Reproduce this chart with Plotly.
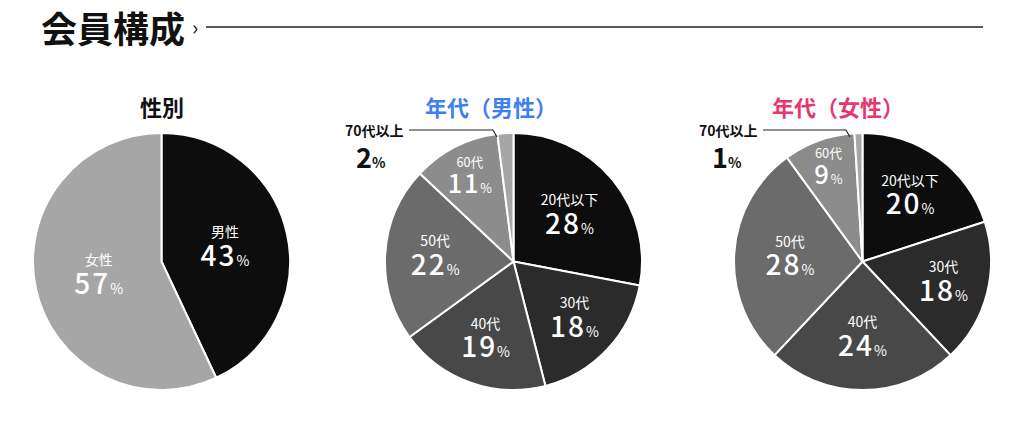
import plotly.graph_objects as go

W, H = 1024, 424

# ---- data ----
gender_labels = ["男性", "女性"]
gender_values = [43, 57]

age_labels = ["20代以下", "30代", "40代", "50代", "60代", "70代以上"]
male_age_values = [28, 18, 19, 22, 11, 2]
female_age_values = [20, 18, 24, 28, 9, 1]

title_text = "会員構成"
subtitles = ["性別", "年代（男性）", "年代（女性）"]

# ---- styles ----
FONT = "Noto Sans CJK JP"
gender_colors = ["#0d0d0d", "#a6a6a6"]
age_colors = ["#0d0d0d", "#2b2b2b", "#484848", "#6b6b6b", "#8c8c8c", "#a6a6a6"]
sub_colors = ["#111111", "#3f7fef", "#e4386f"]


def px(x):
    return x / W


def py(y):
    return 1 - y / H


def dom(cx, cy, r):
    return dict(x=[px(cx - r), px(cx + r)], y=[py(cy + r), py(cy - r)])


inner_tpl = ("<span style='font-size:14px'>%{label}</span><br>"
             "<span style='font-size:28px;font-weight:500;letter-spacing:2px'>%{value}</span>"
             "<span style='font-size:14px'>%</span>")

fig = go.Figure()

pies = [
    (gender_labels, gender_values, gender_colors, 161.5),
    (age_labels, male_age_values, age_colors, 513.5),
    (age_labels, female_age_values, age_colors, 862.5),
]
for labels, values, colors, cx in pies:
    tpl = [inner_tpl if v >= 5 else "" for v in values]
    fig.add_trace(go.Pie(
        labels=labels, values=values, sort=False, direction="clockwise",
        rotation=0, domain=dom(cx, 261.5, 128.5),
        marker=dict(colors=colors, line=dict(color="white", width=2)),
        texttemplate=tpl, textposition="inside",
        insidetextorientation="horizontal",
        textfont=dict(family=FONT, size=22, color="white"),
        hoverinfo="skip", showlegend=False,
    ))

annotations = []
# main title
annotations.append(dict(
    x=px(39), y=py(27), xref="paper", yref="paper", xanchor="left", yanchor="middle",
    text=f"<b>{title_text}</b>", showarrow=False,
    font=dict(family=FONT, size=36, color="#111111")))
annotations.append(dict(
    x=px(190), y=py(26), xref="paper", yref="paper", xanchor="left", yanchor="middle",
    text="›", showarrow=False, font=dict(family=FONT, size=21, color="#111111")))

# subtitles
for t, c, x in zip(subtitles, sub_colors, [162, 491, 838]):
    annotations.append(dict(
        x=px(x), y=py(106), xref="paper", yref="paper", xanchor="center", yanchor="middle",
        text=f"<b>{t}</b>", showarrow=False, font=dict(family=FONT, size=22, color=c)))

# small-slice outside labels
for vals, lx, vx in [(male_age_values, 406, 371), (female_age_values, 760, 727)]:
    annotations.append(dict(
        x=px(lx), y=py(130), xref="paper", yref="paper", xanchor="right", yanchor="middle",
        text=f"<b>{age_labels[-1]}</b>", showarrow=False,
        font=dict(family=FONT, size=14, color="#111111")))
    annotations.append(dict(
        x=px(vx), y=py(157), xref="paper", yref="paper", xanchor="center", yanchor="middle",
        text=f"<b><span style='font-size:27px'>{vals[-1]}</span>%</b>", showarrow=False,
        font=dict(family=FONT, size=14, color="#111111")))

shapes = [
    dict(type="line", xref="paper", yref="paper", x0=px(206), x1=px(983),
         y0=py(27), y1=py(27), line=dict(color="#222222", width=1.5)),
]
for x0, x1 in [(409, 493), (763, 846)]:
    shapes.append(dict(
        type="path", xref="paper", yref="paper",
        path=f"M {px(x0)},{py(130)} L {px(x1)},{py(130)} L {px(x1 + 4)},{py(137)}",
        line=dict(color="#222222", width=1.2)))

fig.update_layout(
    width=W, height=H, margin=dict(l=0, r=0, t=0, b=0),
    paper_bgcolor="white", plot_bgcolor="white",
    annotations=annotations, shapes=shapes,
    font=dict(family=FONT),
)

fig.write_html("out.html", post_script="document.body.style.margin='0';",
               config={"displayModeBar": False})
